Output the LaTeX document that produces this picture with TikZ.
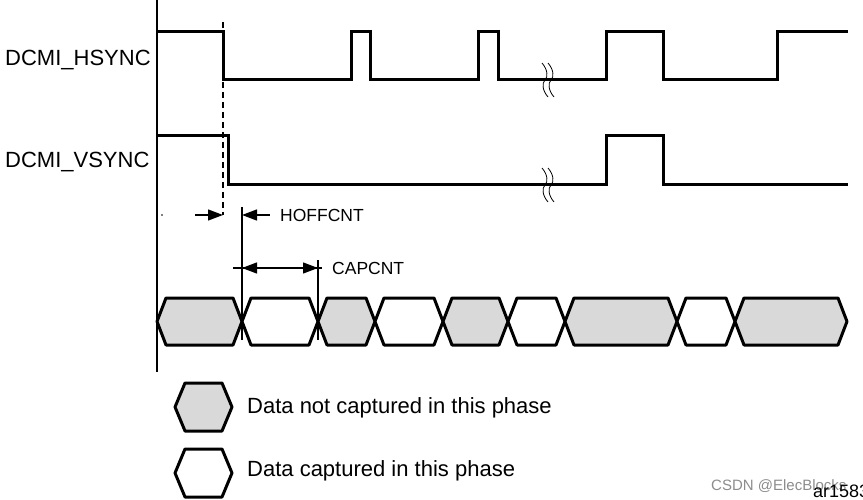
\documentclass[tikz,border=0pt]{standalone}
\usepackage{fontspec}
\setmainfont{Liberation Sans}
\usetikzlibrary{arrows.meta}
\definecolor{cellgray}{HTML}{D9D9D9}
\newcommand\hexcell[6]{% x1, x2, ytop, ybot, slant, fill
  \draw[hexline,fill=#6] (#1,{(#3+#4)/2}) -- (#1+#5,#3) -- (#2-#5,#3) -- (#2,{(#3+#4)/2}) -- (#2-#5,#4) -- (#1+#5,#4) -- cycle;}
\newcommand\breakmark[2]{% x, ycenter
  \draw[line width=0.8pt] (#1-3,#2-17) .. controls (#1+3,#2-10) and (#1+3,#2-3) .. (#1,#2) .. controls (#1-3,#2+3) and (#1-3,#2+10) .. (#1+3,#2+17);}
\begin{document}
\begin{tikzpicture}[x=1pt,y=-1pt,
  wave/.style={line width=3pt,line join=miter},
  hexline/.style={line width=3pt,line join=round},
  thinl/.style={line width=1.3pt},
  tipped/.style={thinl,-{Triangle[length=15pt,width=11pt]}},
  lab/.style={inner sep=0pt,anchor=base west,font=\fontsize{22}{26}\selectfont},
  smlab/.style={inner sep=0pt,anchor=base west,font=\fontsize{17.5}{21}\selectfont}]
\useasboundingbox (0,0) rectangle (863,500);
% axis
\draw[line width=1.5pt] (157,0) -- (157,372);
% signals
\draw[wave] (157,32) -- (223,32) -- (223,80) -- (351,80) -- (351,32) -- (370,32) -- (370,80)
  -- (478,80) -- (478,32) -- (498,32) -- (498,80) -- (606,80) -- (606,32) -- (663,32)
  -- (663,80) -- (777,80) -- (777,32) -- (848,32);
\draw[wave] (157,136) -- (228,136) -- (228,185) -- (606,185) -- (606,136) -- (663,136)
  -- (663,185) -- (848,185);
\breakmark{545}{80}\breakmark{551}{80}
\breakmark{545}{185}\breakmark{551}{185}
% labels
\node[lab] (hs) at (5,66) {DCMI\_HSYNC};
\node[lab] (vs) at (5,168) {DCMI\_VSYNC};
% dashed reference
\draw[thinl,dash pattern=on 6pt off 4pt] (223,22) -- (223,215);
\fill (162,215) circle (0.9pt);
% HOFFCNT
\coordinate (h1) at (195,215);
\coordinate (h2) at (223,215);
\coordinate (h3) at (270,215);
\coordinate (h4) at (242,215);
\draw[tipped] (h1) -- (h2);
\draw[tipped] (h3) -- (h4);
\draw[thinl] (242,207) -- (242,340);
\draw[thinl] (318,260) -- (318,340);
\node[smlab] (hoff) at (280,222) {HOFFCNT};
% CAPCNT
\coordinate (c1) at (242,268);
\coordinate (c2) at (318,268);
\draw[thinl] (233,268) -- (322,268);
\draw[thinl,{Triangle[length=15pt,width=11pt]}-{Triangle[length=15pt,width=11pt]}] (c1) -- (c2);
\node[smlab] (cap) at (332,274) {CAPCNT};
% data cells
\hexcell{157}{242}{298}{345}{9}{cellgray}
\hexcell{242}{318}{298}{345}{9}{white}
\hexcell{318}{375}{298}{345}{9}{cellgray}
\hexcell{375}{443}{298}{345}{9}{white}
\hexcell{443}{508}{298}{345}{9}{cellgray}
\hexcell{508}{565}{298}{345}{9}{white}
\hexcell{565}{677}{298}{345}{9}{cellgray}
\hexcell{677}{735}{298}{345}{9}{white}
\hexcell{735}{847}{298}{345}{9}{cellgray}
\draw[thinl] (242,298) -- (242,340);
\draw[thinl] (318,298) -- (318,340);
% legend
\hexcell{175}{232}{383}{431}{10}{cellgray}
\hexcell{175}{232}{449}{497}{10}{white}
\node[lab] (l1) at (247,413) {Data not captured in this phase};
\node[lab] (l2) at (247,476) {Data captured in this phase};
% watermark and figure id
\node[inner sep=0pt,anchor=base west,font=\fontsize{15}{18}\selectfont,text=black!45] (wm) at (711,490) {CSDN @ElecBlocks};
\node[inner sep=0pt,anchor=base west,font=\fontsize{18}{21}\selectfont] (id) at (813,497) {ar1583};
\end{tikzpicture}
\end{document}
